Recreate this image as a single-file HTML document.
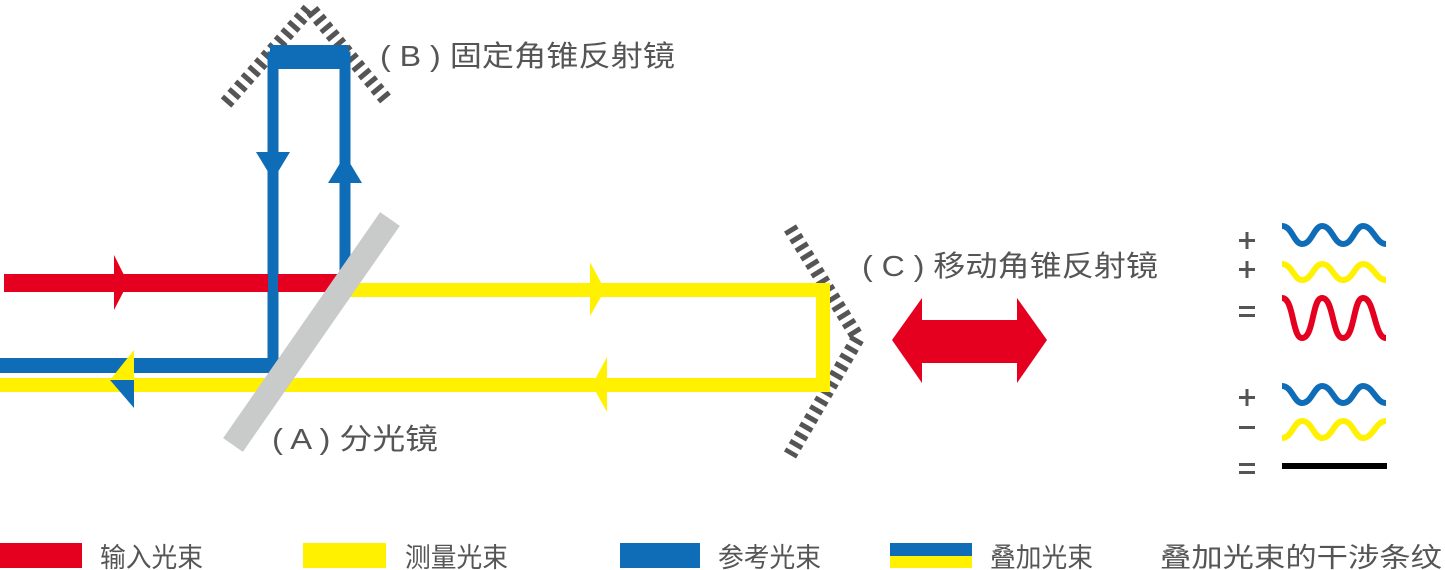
<!DOCTYPE html>
<html><head><meta charset="utf-8"><style>
html,body{margin:0;padding:0;background:#fff;}
svg{display:block;}
text{font-family:"Liberation Sans","Noto Sans CJK SC",sans-serif;fill:#555;}
</style></head><body>
<svg width="1445" height="570" viewBox="0 0 1445 570" xmlns="http://www.w3.org/2000/svg">
<!-- mirror B -->
<polyline points="226,103 310,8 388,102" fill="none" stroke="#555" stroke-width="14" stroke-dasharray="5,5"/>
<!-- mirror C -->
<polyline points="790,228 858,338 790,455" fill="none" stroke="#555" stroke-width="14" stroke-dasharray="5,5"/>

<!-- blue reference loop -->
<path d="M273,365 L273,57 L345,57 L345,283" fill="none" stroke="#0f6db7" stroke-width="11"/>
<rect x="270" y="45" width="78" height="24" fill="#0f6db7"/>
<polygon points="256,152 290,152 273,180" fill="#0f6db7"/>
<polygon points="328,183 362,183 345,155" fill="#0f6db7"/>
<rect x="0" y="358" width="278" height="15" fill="#0f6db7"/>

<!-- red input -->
<rect x="4" y="274" width="334" height="18" fill="#e60020"/>
<polygon points="114,255 128,283 114,310" fill="#e60020"/>
<rect x="268" y="274" width="10" height="18" fill="#0f6db7"/>

<!-- yellow -->
<path d="M350,290 L823,290 L823,385 L0,385" fill="none" stroke="#fff100" stroke-width="14"/>
<polygon points="590,262 605,290 590,316" fill="#fff100"/>
<polygon points="607,357 592,385 607,412" fill="#fff100"/>
<polygon points="134,350 134,380 110,380" fill="#fff100"/>
<polygon points="134,380 134,408 110,380" fill="#0f6db7"/>

<!-- beam splitter -->
<line x1="390" y1="219" x2="233" y2="445" stroke="#c9caca" stroke-width="24"/>

<!-- red double arrow -->
<polygon points="892,340 922,298 922,320 1017,320 1017,298 1047,340 1017,383 1017,363 922,363 922,383" fill="#e60020"/>

<!-- labels -->
<text x="380" y="66" font-size="29" textLength="295" lengthAdjust="spacingAndGlyphs">( B ) 固定角锥反射镜</text>
<text x="862" y="276" font-size="29" textLength="296" lengthAdjust="spacingAndGlyphs">( C ) 移动角锥反射镜</text>
<text x="272" y="449" font-size="29" textLength="166" lengthAdjust="spacingAndGlyphs">( A ) 分光镜</text>

<!-- waves -->
<g fill="none" stroke-width="6" stroke-linecap="butt">
<path d="M1282,226 C1292,226 1294,244 1302,244 C1312,244 1314,226 1322,226 C1332,226 1334,244 1343,244 C1353,244 1355,226 1363,226 C1373,226 1376,244 1386,244" stroke="#0f6db7"/>
<path d="M1282,264 C1292,264 1294,280 1302,280 C1312,280 1314,264 1322,264 C1332,264 1334,280 1343,280 C1353,280 1355,264 1363,264 C1373,264 1376,280 1386,280" stroke="#fff100"/>
<path d="M1282,298 C1294,298 1292,338 1302,338 C1314,338 1312,298 1322,298 C1334,298 1332,338 1343,338 C1355,338 1353,298 1363,298 C1375,298 1374,338 1386,338" stroke="#e60020"/>
<path d="M1282,386 C1292,386 1294,403 1302,403 C1312,403 1314,386 1322,386 C1332,386 1334,403 1343,403 C1353,403 1355,386 1363,386 C1373,386 1376,403 1386,403" stroke="#0f6db7"/>
<path d="M1282,438 C1292,438 1294,421 1302,421 C1312,421 1314,438 1322,438 C1332,438 1334,421 1343,421 C1353,421 1355,438 1363,438 C1373,438 1376,421 1386,421" stroke="#fff100"/>
<line x1="1282" y1="466" x2="1387" y2="466" stroke="#000"/>
</g>
<g fill="#555">
<rect x="1239" y="239" width="16" height="3"/><rect x="1245.5" y="232" width="3" height="17"/>
<rect x="1239" y="268" width="16" height="3"/><rect x="1245.5" y="261" width="3" height="17"/>
<rect x="1239" y="306" width="16" height="3"/><rect x="1239" y="314" width="16" height="3"/>
<rect x="1239" y="396" width="16" height="3"/><rect x="1245.5" y="389" width="3" height="17"/>
<rect x="1239" y="426" width="16" height="3"/>
<rect x="1239" y="463" width="16" height="3"/><rect x="1239" y="471" width="16" height="3"/>
</g>

<!-- legend -->
<rect x="0" y="543" width="82" height="25" fill="#e60020"/>
<rect x="303" y="543" width="83" height="25" fill="#fff100"/>
<rect x="620" y="543" width="80" height="25" fill="#0f6db7"/>
<rect x="890" y="543" width="82" height="13" fill="#0f6db7"/>
<rect x="890" y="556" width="82" height="12" fill="#fff100"/>
<g font-size="27">
<text x="100" y="567" textLength="103" lengthAdjust="spacingAndGlyphs">输入光束</text>
<text x="405" y="567" textLength="103" lengthAdjust="spacingAndGlyphs">测量光束</text>
<text x="718" y="567" textLength="103" lengthAdjust="spacingAndGlyphs">参考光束</text>
<text x="990" y="567" textLength="103" lengthAdjust="spacingAndGlyphs">叠加光束</text>
<text x="1160" y="567" textLength="282" lengthAdjust="spacingAndGlyphs">叠加光束的干涉条纹</text>
</g>
</svg>
</body></html>
